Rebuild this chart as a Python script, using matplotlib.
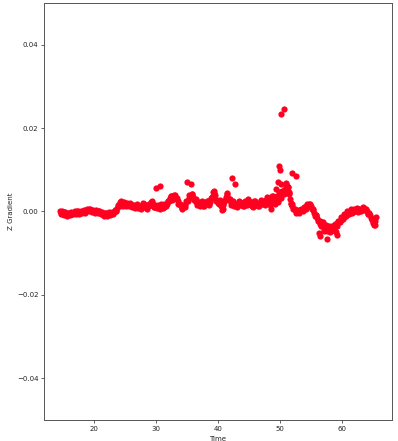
import numpy as np
import matplotlib
matplotlib.use("Agg")
import matplotlib.pyplot as plt

# Main series: regular time grid (start, step) and values in thousandths
t_start = 14.5
t_step = 0.25
z_band_milli = [
    # 14.5 - 20.0
    0.0, -0.3, -0.5, -0.2, -0.6, -0.7, -0.4, -0.6, -0.5, -0.2, -0.3, 0.0,
    -0.1, -0.3, -0.2, 0.1, -0.1, 0.2, 0.3, 0.5, 0.3, 0.1, 0.2,
    # 20.25 - 25.0
    0.0, -0.1, 0.1, -0.2, -0.5, -0.7, -0.4, -0.8, -0.6, -0.5, -0.7, -0.3,
    -0.1, 0.2, 0.8, 1.5, 2.2, 2.0, 1.7, 2.0,
    # 25.25 - 30.0
    1.8, 1.5, 2.0, 1.3, 1.6, 1.1, 1.4, 1.5, 1.1, 0.9, 1.3, 1.7, 1.4, 1.0,
    1.2, 1.6, 2.3, 1.7, 1.0, 1.1,
    # 30.25 - 35.0
    1.4, 0.8, 1.2, 1.6, 1.0, 1.3, 1.9, 2.6, 3.2, 3.6, 3.0, 3.9, 3.3, 2.6,
    1.8, 1.2, 0.9, 1.3, 1.6, 2.4,
    # 35.25 - 40.0
    3.2, 3.8, 4.1, 3.5, 2.8, 2.2, 1.9, 1.5, 2.1, 1.7, 1.4, 2.0, 2.4, 1.8,
    2.3, 3.5, 4.6, 3.9, 2.6, 2.0,
    # 40.25 - 45.0
    2.8, 1.2, 0.6, 2.2, 3.5, 4.3, 3.0, 2.4, 1.8, 2.1, 1.6, 1.3, 1.8, 2.2,
    1.9, 1.4, 1.7, 2.3, 2.0, 2.5,
    # 45.25 - 50.0
    1.8, 1.4, 1.9, 2.4, 1.6, 1.2, 2.0, 2.6, 2.1, 1.7, 2.8, 3.2, 2.4, 0.6,
    3.6, 2.9, 2.2, 3.8, 2.7, 3.4,
    # 50.25 - 55.0
    4.2, 5.0, 4.4, 6.6, 5.8, 4.3, 1.8, 1.3, 0.5, 0.1, -0.1, 0.2, 0.0, 0.3,
    0.6, 0.9, 1.2, 1.6, 1.8, 1.2,
    # 55.25 - 60.0
    0.6, -0.3, -0.9, -1.5, -2.3, -3.0, -2.6, -3.5, -4.0, -3.6, -4.3, -3.8,
    -4.2, -3.5, -3.9, -3.3, -2.8, -2.5, -2.0, -1.6,
    # 60.25 - 65.5
    -1.3, -0.9, -0.6, -0.3, 0.0, 0.2, -0.2, 0.4, 0.7, 0.3, 0.0, 0.3, 0.6,
    0.8, 0.4, 0.0, -0.5, -0.9, -1.8, -2.8, -3.2, -1.3,
]

# Interleaved samples, half a step later (14.625 ... 65.375), in thousandths
z_band2_milli = [
    -0.6, 0.0, -0.8, -0.1, -1.0, -0.3, -0.9, -0.2, -0.7, 0.1, -0.5, 0.2,
    -0.5, 0.0, -0.4, 0.3, -0.3, 0.6, 0.0, 0.7, -0.1, 0.4,
    -0.3, 0.3, -0.4, 0.2, -0.7, -0.2, -1.0, -0.3, -1.0, -0.2, -0.9, -0.2,
    -0.5, 0.3, 0.2, 1.5, 1.4, 2.6, 1.4, 2.3,
    1.3, 2.1, 1.3, 1.9, 1.0, 1.6, 0.8, 1.7, 0.8, 1.4, 0.6, 2.0, 1.1, 1.6,
    0.7, 1.9, 1.5, 2.4, 1.0, 1.5,
    0.8, 1.5, 0.7, 1.8, 0.9, 1.7, 1.3, 2.6, 2.5, 3.8, 2.8, 3.9, 3.2, 3.3,
    1.9, 1.9, 0.7, 1.5, 1.1, 2.4,
    2.5, 4.0, 3.4, 4.3, 2.8, 2.9, 1.6, 2.2, 1.3, 2.4, 1.2, 2.1, 1.7, 2.6,
    1.6, 3.2, 3.8, 4.4, 2.8, 2.8,
    1.9, 2.4, 0.4, 1.6, 2.7, 4.5, 3.3, 3.1, 1.6, 2.6, 1.4, 1.8, 1.0, 2.5,
    1.5, 2.1, 1.2, 2.5, 1.6, 2.9,
    1.7, 2.1, 1.1, 2.6, 1.6, 1.8, 1.2, 2.8, 1.9, 2.4, 1.6, 3.4, 2.4, 1.6,
    2.0, 3.8, 1.9, 3.4, 2.2, 3.6,
    3.2, 4.9, 4.1, 5.4, 6.1, 4.6, 3.0, 1.9, 0.6, 0.6, -0.3, 0.4, -0.3, 0.5,
    0.1, 1.1, 0.7, 1.8, 1.3, 1.9,
    0.7, 0.4, -1.0, -0.8, -2.3, -2.2, -3.4, -2.5, -4.3, -3.2, -4.6, -3.5,
    -4.6, -3.4, -4.2, -3.1, -3.4, -2.3, -2.6, -1.4,
    -1.8, -0.7, -1.1, 0.0, -0.6, 0.5, -0.4, 0.6, 0.2, 0.9, -0.2, 0.5, 0.1,
    1.0, 0.3, 0.5, -0.6, -0.4, -1.6, -2.1, -3.3, -2.2,
]

# Scattered points off the main band
t_extra = [30.06, 30.6, 35.0, 35.6, 42.3, 42.8, 39.4, 49.4, 50.22, 50.66,
           49.86, 49.97, 51.9, 52.5, 49.75, 50.1, 51.0, 51.3, 49.86, 50.1,
           51.4, 51.7, 56.3, 56.4, 57.6, 57.1, 58.0, 58.8, 59.2, 59.0]
z_extra_milli = [5.7, 6.2, 7.0, 6.7, 8.0, 6.6, 4.9, 5.3, 23.4, 24.7,
                 10.8, 9.9, 9.3, 8.6, 7.0, 6.5, 6.9, 5.9, 4.6, 4.6,
                 4.5, 2.1, -5.2, -5.9, -6.5, -4.6, -5.0, -4.6, -5.7, -4.8]

y_ticks = [-0.04, -0.02, 0.00, 0.02, 0.04]
y_tick_labels = ["\u22120.04", "\u22120.02", "0.00", "0.02", "0.04"]
x_ticks = [20, 30, 40, 50, 60]

t_band = t_start + t_step * np.arange(len(z_band_milli))
t_band2 = t_start + t_step / 2 + t_step * np.arange(len(z_band2_milli))
t_all = np.concatenate([t_band, t_band2, np.array(t_extra)])
z_all = np.concatenate([np.array(z_band_milli), np.array(z_band2_milli),
                        np.array(z_extra_milli)]) / 1000.0

fig = plt.figure(figsize=(3.98, 4.41), dpi=100)
ax = fig.add_axes([44 / 398, 1 - 420 / 441, (392 - 44) / 398, (420 - 3) / 441])
ax.scatter(t_all, z_all, s=20, color="#ff0020", linewidths=0, zorder=3)

ax.set_ylim(-0.05, 0.05)
ax.set_yticks(y_ticks)
ax.set_yticklabels(y_tick_labels)
ax.set_xticks(x_ticks)
ax.tick_params(labelsize=5, length=2, width=0.5, pad=2, colors="#222222")
for sp in ax.spines.values():
    sp.set_linewidth(0.7)
    sp.set_color("#555555")
ax.set_xlabel("Time", fontsize=5, labelpad=3.5, color="#222222")
ax.set_ylabel("Z Gradient", fontsize=5, labelpad=2, color="#222222")

fig.savefig("out.png", dpi=100)
